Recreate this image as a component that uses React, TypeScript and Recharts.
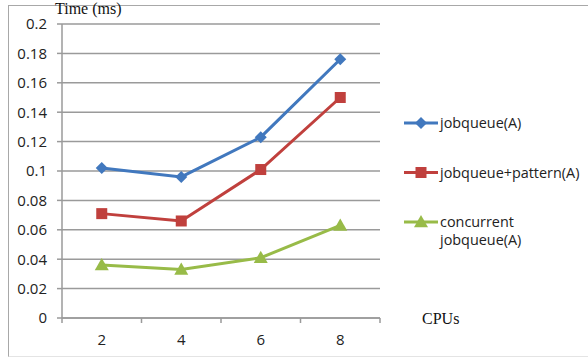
import { LineChart, Line, XAxis, YAxis, CartesianGrid } from 'recharts';

const cpus = [2, 4, 6, 8];
const jobqueue = [0.102, 0.096, 0.123, 0.176];
const jobqueuePattern = [0.071, 0.066, 0.101, 0.15];
const concurrent = [0.036, 0.033, 0.041, 0.063];
const yTicks = [0, 0.02, 0.04, 0.06, 0.08, 0.1, 0.12, 0.14, 0.16, 0.18, 0.2];
// tick marks sit between the categories, labels on the even CPU counts
const xTicks = [1, 2, 3, 4, 5, 6, 7, 8, 9];

const data = cpus.map((cpu, i) => ({
  cpu,
  jobqueue: jobqueue[i],
  pattern: jobqueuePattern[i],
  concurrent: concurrent[i],
}));

const BLUE = '#4178be';
const RED = '#c0403d';
const GREEN = '#98bb48';
const GRID = '#9a9a9a';
const SANS = '"Open Sans", "Liberation Sans", sans-serif';
const SERIF = '"Liberation Serif", "Times New Roman", serif';

type Shape = 'diamond' | 'square' | 'triangle';

function Marker({ cx, cy, shape, color }: { cx: number; cy: number; shape: Shape; color: string }) {
  if (shape === 'diamond') {
    const r = 6;
    return <polygon points={`${cx},${cy - r} ${cx + r},${cy} ${cx},${cy + r} ${cx - r},${cy}`} fill={color} />;
  }
  if (shape === 'square') {
    const r = 5.5;
    return <rect x={cx - r} y={cy - r} width={r * 2} height={r * 2} fill={color} />;
  }
  const r = 7;
  return <polygon points={`${cx},${cy - r} ${cx + r},${cy + r * 0.75} ${cx - r},${cy + r * 0.75}`} fill={color} />;
}

const dot = (shape: Shape, color: string) => (props: any) => (
  <Marker key={`${shape}-${props.index}`} cx={props.cx} cy={props.cy} shape={shape} color={color} />
);

function XTick({ x, y, payload }: any) {
  if (payload.value % 2 === 1) {
    return <line x1={x} y1={y - 8} x2={x} y2={y - 3} stroke={GRID} strokeWidth={1.5} />;
  }
  return (
    <text x={x} y={y + 19} textAnchor="middle" fontFamily={SANS} fontSize={15} fill="#222">
      {payload.value}
    </text>
  );
}

const legendItems: { label: string[]; color: string; shape: Shape }[] = [
  { label: ['jobqueue(A)'], color: BLUE, shape: 'diamond' },
  { label: ['jobqueue+pattern(A)'], color: RED, shape: 'square' },
  { label: ['concurrent', 'jobqueue(A)'], color: GREEN, shape: 'triangle' },
];

function ChartLegend() {
  return (
    <svg width={188} height={150} style={{ position: 'absolute', left: 400, top: 110 }}>
      {legendItems.map((item, i) => {
        const cy = 13 + i * 49.5;
        return (
          <g key={item.label[0]}>
            <line x1={4} y1={cy} x2={38} y2={cy} stroke={item.color} strokeWidth={3} />
            <Marker cx={21} cy={cy} shape={item.shape} color={item.color} />
            {item.label.map((t, j) => (
              <text key={t} x={40} y={cy + 5 + j * 18} fontFamily={SANS} fontSize={14.4} fill="#222">
                {t}
              </text>
            ))}
          </g>
        );
      })}
    </svg>
  );
}

export default function App() {
  return (
    <div style={{ position: 'absolute', left: 0, top: 0, width: 588, height: 358, background: '#fff', overflow: 'hidden' }}>
      <div
        style={{
          position: 'absolute',
          left: 8,
          top: 5,
          width: 590,
          height: 350,
          borderLeft: '1.5px solid #a8a8a8',
          borderTop: '1.5px solid #a8a8a8',
          borderBottom: '1px solid #e4e4e4',
        }}
      />
      <LineChart
        width={588}
        height={358}
        data={data}
        margin={{ top: 24, right: 208, bottom: 10, left: 0 }}
        style={{ position: 'absolute', left: 0, top: 0 }}
      >
        <CartesianGrid vertical={false} stroke={GRID} strokeWidth={1.5} />
        <XAxis
          dataKey="cpu"
          type="number"
          domain={[1, 9]}
          ticks={xTicks}
          interval={0}
          height={30}
          tickLine={false}
          axisLine={{ stroke: GRID, strokeWidth: 1.5 }}
          tick={<XTick />}
        />
        <YAxis
          type="number"
          domain={[0, 0.2]}
          ticks={yTicks}
          interval={0}
          width={62}
          tickSize={5}
          tickMargin={10}
          tickLine={{ stroke: GRID, strokeWidth: 1.5 }}
          axisLine={{ stroke: GRID, strokeWidth: 1.5 }}
          tick={{ fontFamily: SANS, fontSize: 15, fill: '#222' }}
        />
        <Line
          dataKey="jobqueue"
          name="jobqueue(A)"
          stroke={BLUE}
          strokeWidth={3}
          dot={dot('diamond', BLUE)}
          isAnimationActive={false}
        />
        <Line
          dataKey="pattern"
          name="jobqueue+pattern(A)"
          stroke={RED}
          strokeWidth={3}
          dot={dot('square', RED)}
          isAnimationActive={false}
        />
        <Line
          dataKey="concurrent"
          name="concurrent jobqueue(A)"
          stroke={GREEN}
          strokeWidth={3}
          dot={dot('triangle', GREEN)}
          isAnimationActive={false}
        />
      </LineChart>
      <ChartLegend />
      <div style={{ position: 'absolute', left: 55, top: 0, fontFamily: SERIF, fontSize: 16, color: '#111' }}>
        Time (ms)
      </div>
      <div style={{ position: 'absolute', left: 422, top: 310, fontFamily: SERIF, fontSize: 16, color: '#111' }}>
        CPUs
      </div>
    </div>
  );
}
